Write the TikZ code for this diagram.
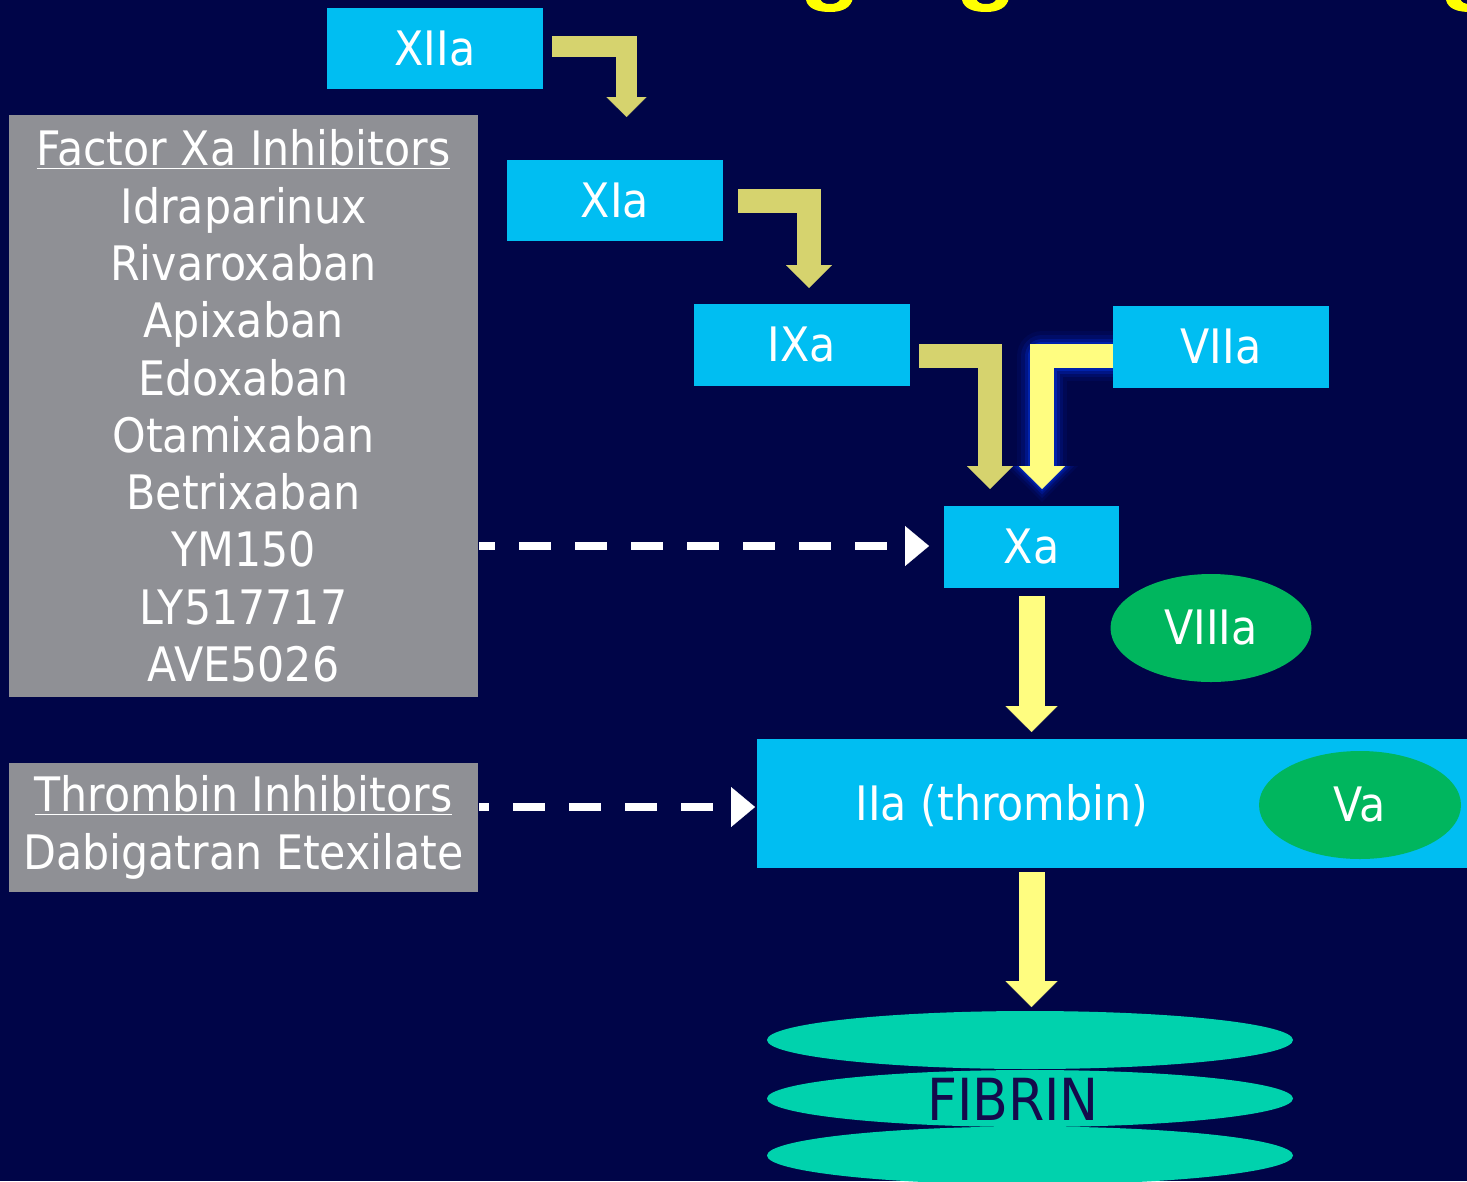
\documentclass[tikz,border=0pt]{standalone}
\usepackage{fontspec}
\setmainfont{DejaVu Sans}[FakeStretch=0.9]
\usetikzlibrary{arrows.meta,calc,shapes.geometric}
\pgfdeclarelayer{back}
\pgfsetlayers{back,main}
\definecolor{bgnavy}{RGB}{0,5,72}
\definecolor{boxcyan}{RGB}{0,190,242}
\definecolor{boxgray}{RGB}{143,144,149}
\definecolor{khaki}{RGB}{214,211,110}
\definecolor{brightyel}{RGB}{255,253,128}
\definecolor{enzgreen}{RGB}{0,182,94}
\definecolor{fibteal}{RGB}{0,210,173}
\definecolor{fibtext}{RGB}{20,10,75}
\definecolor{titleyel}{RGB}{255,255,0}
\definecolor{glowA}{RGB}{0,8,84}
\definecolor{glowB}{RGB}{0,13,104}
\definecolor{glowC}{RGB}{0,21,134}
\definecolor{glowD}{RGB}{0,34,172}
\begin{document}
\begin{tikzpicture}[x=1pt,y=-1pt,
  every node/.style={inner sep=0pt,outer sep=0pt},
  bigfont/.style={font=\fontsize{47.5}{57.3}\selectfont},
  enzbox/.style={rectangle,fill=boxcyan,text=white,bigfont,minimum width=216pt,minimum height=81pt},
  cofactor/.style={ellipse,fill=enzgreen,text=white,bigfont,minimum width=201pt,minimum height=108pt},
  drugbox/.style={rectangle,fill=boxgray,text=white,bigfont,align=center,minimum width=469pt},
  fibdisc/.style={ellipse,fill=fibteal,minimum width=526pt,minimum height=58pt},
  khakiarrow/.style={draw=khaki,line width=24pt,line cap=butt,line join=miter,-{Triangle[width=46pt,length=23pt,line width=0.1pt]}},
  yelbent/.style={draw=brightyel,line width=24pt,line cap=butt,line join=miter,-{Triangle[width=46pt,length=23pt,line width=0.1pt]}},
  yelstraight/.style={draw=brightyel,line width=26pt,line cap=butt,-{Triangle[width=52pt,length=26pt,line width=0.1pt]}},
  dasharrow/.style={draw=white,line width=8pt,dash pattern=on 32pt off 24pt,-{Triangle[width=40pt,length=24pt,line width=0.1pt]}},
  glowline/.style={line join=round,line cap=butt}
]
\useasboundingbox (0,0) rectangle (1467,1181);
\begin{pgfonlayer}{back}
\fill[bgnavy] (0,0) rectangle (1467,1181);
\begin{scope}
\clip (0,0) rectangle (1467,1181);
\foreach \dx in {0,156,640}{
  \fill[titleyel,xshift=\dx pt] (806,-2) -- (806,0) .. controls (808,9) and (818,12) .. (830,12)
    .. controls (842,12) and (851,8) .. (853,-2) -- (841,-2) .. controls (839,3) and (835,4) .. (830,4)
    .. controls (825,4) and (821,3) .. (820,-2) -- cycle;
}
\end{scope}
\end{pgfonlayer}

% enzyme boxes
\node[enzbox] (xiia) at (435,48.5) {XIIa};
\node[enzbox] (xia) at (615,200.5) {XIa};
\node[enzbox,minimum height=82pt] (ixa) at (802,345) {IXa};
\node[enzbox,minimum height=82pt] (viia) at (1221,347) {VIIa};
\node[enzbox,minimum width=175pt,minimum height=82pt] (xa) at (1031.5,547) {Xa};
\node[rectangle,fill=boxcyan,minimum width=723pt,minimum height=129pt] (iia) at (1118.5,803.5) {};
\node[text=white,bigfont] (iialabel) at (1002,806) {IIa (thrombin)};
\node[cofactor] (viiia) at (1211,628) {VIIIa};
\node[cofactor,minimum width=202pt] (va) at (1360,805) {Va};

% inhibitor boxes
\node[drugbox,minimum height=582pt] (fxi) at (243.5,406)
  {\underline{Factor Xa Inhibitors}\\Idraparinux\\Rivaroxaban\\Apixaban\\Edoxaban\\Otamixaban\\Betrixaban\\YM150\\LY517717\\AVE5026};
\node[drugbox,minimum height=129pt] (thr) at (243.5,827.5)
  {\underline{Thrombin Inhibitors}\\Dabigatran Etexilate};

% fibrin
\node[fibdisc] (fib1) at (1030,1040) {};
\node[fibdisc,minimum height=57pt] (fib2) at (1030,1098.5) {};
\node[fibdisc] (fib3) at (1030,1155.5) {};
\node[font=\fontsize{58}{70}\selectfont,text=fibtext] (fibrin) at (1013,1099.5) {FIBRIN};

% arrow end points
\coordinate (t1) at ($(xia.north)+(11.5,-43)$);
\coordinate (t2) at ($(ixa.north)+(7,-16)$);
\coordinate (t3) at ($(xa.north)+(-41.5,-17)$);
\coordinate (t4) at ($(xa.north)+(10.5,-17)$);

% glow of VIIa arrow
\begin{pgfonlayer}{back}
\draw[glowline,glowA,line width=50pt,-{Triangle[width=72pt,length=36pt,line width=0.1pt]}] ($(viia.west)+(10,9)$) -| ($(t4)+(0,13)$);
\draw[glowline,glowB,line width=42pt,-{Triangle[width=64pt,length=32pt,line width=0.1pt]}] ($(viia.west)+(10,9)$) -| ($(t4)+(0,9)$);
\draw[glowline,glowC,line width=35pt,-{Triangle[width=57pt,length=28.5pt,line width=0.1pt]}] ($(viia.west)+(10,9)$) -| ($(t4)+(0,5.5)$);
\draw[glowline,glowD,line width=29pt,-{Triangle[width=51pt,length=25.5pt,line width=0.1pt]}] ($(viia.west)+(10,9)$) -| ($(t4)+(0,2.5)$);
\end{pgfonlayer}

% cascade arrows
\draw[khakiarrow,line width=21pt,-{Triangle[width=40pt,length=20pt,line width=0.1pt]}] ([shift={(9,-2)}]xiia.east) -| (t1);
\draw[khakiarrow] ($(xia.east)+(15,0.5)$) -| (t2);
\draw[khakiarrow] ($(ixa.east)+(9,11)$) -| (t3);
\draw[yelbent] ($(viia.west)+(0,9)$) -| (t4);
\draw[yelstraight] ($(xa.south)+(0,8)$) -- ($(xa.south |- iia.north)+(0,-7)$);
\draw[yelstraight] ($(xa.south |- iia.south)+(0,4)$) -- ($(xa.south |- fib1.north)+(0,-4)$);

% inhibition arrows
\draw[dasharrow,dash phase=16pt] ($(fxi.east |- xa.west)+(1,-1)$) -- ($(xa.west)+(-15,-1)$);
\draw[dasharrow,dash phase=22pt] ($(thr.east |- iia.west)+(1,3.5)$) -- ($(iia.west)+(-2,3.5)$);
\end{tikzpicture}
\end{document}
